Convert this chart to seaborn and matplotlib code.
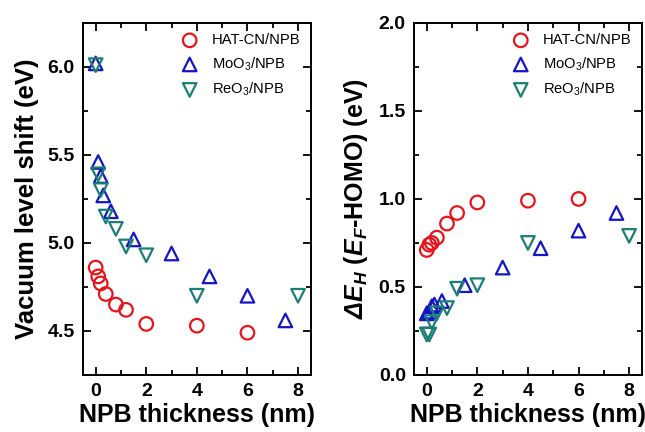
import numpy as np
import pandas as pd
import matplotlib
matplotlib.use("Agg")
import matplotlib.pyplot as plt
from matplotlib.ticker import MultipleLocator
import seaborn as sns

# ---------------- DATA ----------------

hat_x = [0, 0.1, 0.2, 0.4, 0.8, 1.2, 2, 4, 6]
hat_vac = [4.86, 4.81, 4.77, 4.71, 4.65, 4.62, 4.54, 4.53, 4.49]
hat_dh = [0.71, 0.74, 0.75, 0.78, 0.86, 0.92, 0.98, 0.99, 1.00]

moo_x = [0, 0.1, 0.2, 0.3, 0.6, 1.5, 3, 4.5, 6, 7.5]
moo_vac = [6.02, 5.46, 5.38, 5.27, 5.18, 5.02, 4.94, 4.81, 4.70, 4.56]
moo_dh = [0.35, 0.36, 0.39, 0.40, 0.42, 0.51, 0.61, 0.72, 0.82, 0.92]

reo_x = [0, 0.1, 0.2, 0.4, 0.8, 1.2, 2, 4, 8]
reo_vac = [6.01, 5.39, 5.30, 5.15, 5.08, 4.98, 4.93, 4.70, 4.70]
reo_dh = [0.23, 0.23, 0.30, 0.35, 0.38, 0.49, 0.51, 0.75, 0.79]

labels = ["HAT-CN/NPB", "MoO$_3$/NPB", "ReO$_3$/NPB"]
colors = ["#e8141b", "#1414c8", "#1a7f74"]
markers = ["o", "^", "v"]

# ---------------- STYLE ----------------

sns.set_theme(style="ticks")
plt.rcParams["font.family"] = ["Liberation Sans", "DejaVu Sans"]
plt.rcParams["mathtext.fontset"] = "custom"
plt.rcParams["mathtext.rm"] = "Liberation Sans"
plt.rcParams["mathtext.it"] = "Liberation Sans:italic"
plt.rcParams["mathtext.bf"] = "Liberation Sans:bold"
plt.rcParams["mathtext.bfit"] = "Liberation Sans:bold:italic"
for key in ["text.color", "axes.labelcolor", "xtick.color", "ytick.color", "axes.edgecolor"]:
    plt.rcParams[key] = "black"

fig = plt.figure(figsize=(6.45, 4.32), dpi=100)
ax1 = fig.add_axes([0.1287, 0.132, 0.353, 0.815])
ax2 = fig.add_axes([0.642, 0.132, 0.353, 0.815])

series = [(hat_x, hat_vac, hat_dh), (moo_x, moo_vac, moo_dh), (reo_x, reo_vac, reo_dh)]

for (xs, yv, yd), lab, c, m in zip(series, labels, colors, markers):
    sns.scatterplot(x=xs, y=yv, ax=ax1, marker=m, s=95, facecolors="none",
                    edgecolors=c, linewidths=1.6, label=lab, zorder=3)
    sns.scatterplot(x=xs, y=yd, ax=ax2, marker=m, s=95, facecolors="none",
                    edgecolors=c, linewidths=1.6, label=lab, zorder=3)

# ---------------- AXES ----------------

ax1.set_xlim(-0.5, 8.5)
ax1.set_ylim(4.25, 6.25)
ax1.yaxis.set_major_locator(MultipleLocator(0.5))
ax1.yaxis.set_minor_locator(MultipleLocator(0.25))
ax1.set_ylabel("Vacuum level shift (eV)", fontsize=18.5, fontweight="bold", labelpad=6)

ax2.set_xlim(-0.5, 8.5)
ax2.set_ylim(0, 2.0)
ax2.yaxis.set_major_locator(MultipleLocator(0.5))
ax2.yaxis.set_minor_locator(MultipleLocator(0.25))
ax2.set_ylabel(r"$\mathbfit{ΔE_H}$ ($\mathbfit{E_F}$-HOMO) (eV)", fontsize=18,
               fontweight="bold", labelpad=6)

for ax in (ax1, ax2):
    ax.xaxis.set_major_locator(MultipleLocator(2))
    ax.xaxis.set_minor_locator(MultipleLocator(1))
    ax.set_xlabel("NPB thickness (nm)", fontsize=18, fontweight="bold", labelpad=2)
    ax.tick_params(which="both", direction="in", top=True, right=True, width=1.3)
    ax.tick_params(which="major", length=6, labelsize=14, pad=6)
    ax.tick_params(which="minor", length=3.5)
    for lbl in ax.get_xticklabels() + ax.get_yticklabels():
        lbl.set_fontweight("bold")
    for sp in ax.spines.values():
        sp.set_linewidth(1.4)
    ax.legend(loc="upper right", frameon=False, fontsize=10.6, handletextpad=0.5,
              borderaxespad=0.3, labelspacing=0.55)

fig.savefig("out.png", dpi=100)
